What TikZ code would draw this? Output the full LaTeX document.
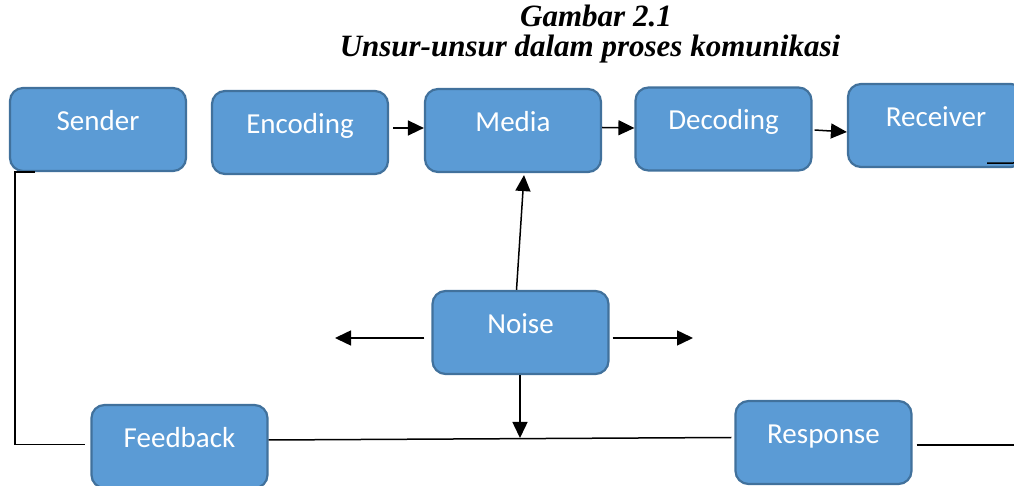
\documentclass[tikz,border=0pt]{standalone}
\usepackage{fontspec}
\setmainfont{Liberation Serif}
\newfontfamily\boxfont{Carlito}
\usetikzlibrary{arrows.meta,calc}
\definecolor{boxblue}{RGB}{91,155,213}
\definecolor{boxedge}{RGB}{65,113,156}
\tikzset{
  commbox/.style={draw=boxedge,fill=boxblue,line width=1.1pt,rounded corners=6.5pt,
    minimum width=88pt,minimum height=41.5pt,inner sep=0pt,text=white,
    font=\boxfont\fontsize{14.5pt}{16pt}\selectfont,text height=9pt,text depth=8pt},
  flow/.style={-{Triangle[length=8pt,width=7.5pt]},line width=0.75pt,draw=black},
  backline/.style={line width=0.75pt,draw=black},
  titletext/.style={font=\bfseries\itshape\fontsize{15.5pt}{18pt}\selectfont,anchor=base,inner sep=0pt}
}
\begin{document}
\begin{tikzpicture}[x=0.5pt,y=-0.5pt]
  \clip (0,0) rectangle (1014,486);
  \node[titletext] (figno) at (596,27) {Gambar 2.1};
  \node[titletext] (figtitle) at (590,57) {Unsur-unsur dalam proses komunikasi};
  % top row
  \node[commbox] (sender) at (98,129.5) {Sender};
  \node[commbox] (encoding) at (300,132.5) {Encoding};
  \node[commbox] (media) at (513,130.5) {Media};
  \node[commbox] (decoding) at (723.5,129) {Decoding};
  \node[commbox] (receiver) at (936,125.5) {Receiver};
  % middle and bottom
  \node[commbox] (noise) at (520.5,332.5) {Noise};
  \node[commbox] (feedback) at (179.5,446.5) {Feedback};
  \node[commbox] (response) at (823.5,442.5) {Response};
  \coordinate (noiseleft) at (335,338);
  \coordinate (noiseright) at (693,338);
  \coordinate (feedmid) at (520,438);
  \coordinate (rightout) at (1014,445);
  \coordinate (recvout) at (1014,163);
  \draw[flow] ([shift={(4,-4.5)}]encoding.east) -- ([shift={(0,-2.5)}]media.west);
  \draw[flow] ([shift={(0,-3)}]media.east) -- ([shift={(0,-1)}]decoding.west);
  \draw[flow] ([shift={(2,1)}]decoding.east) -- ([shift={(0,6.5)}]receiver.west);
  \draw[flow] ([shift={(-4,0)}]noise.north) -- ([shift={(11,2)}]media.south);
  \draw[flow] ([shift={(-7,5.5)}]noise.west) -- (noiseleft);
  \draw[flow] ([shift={(3,5.5)}]noise.east) -- (noiseright);
  \draw[flow] (noise.south -| feedmid) -- (feedmid);
  \draw[backline] ([shift={(-63,0)}]sender.south) -- ([shift={(-83,0)}]sender.south)
    |- ([shift={(-5,-2)}]feedback.west);
  \draw[backline] ([shift={(0,-6.5)}]feedback.east) -- ([shift={(-3,-5)}]response.west);
  \draw[backline] ([shift={(4,2.5)}]response.east) -- (rightout);
  \draw[backline] ([shift={(51,-5)}]receiver.south) -- (recvout);
\end{tikzpicture}
\end{document}
